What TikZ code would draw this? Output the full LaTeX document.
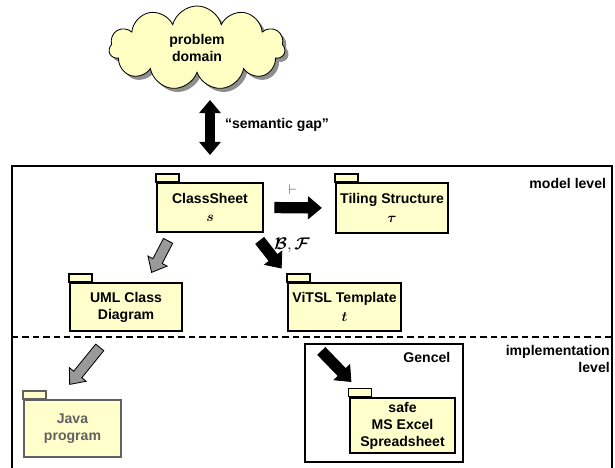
\documentclass[tikz,border=0pt]{standalone}
\usepackage{fontspec}
\usepackage{bm}
\setmainfont{Liberation Sans}
\usetikzlibrary{calc,shapes.symbols,shadows,arrows.meta}

\definecolor{pkgyellow}{RGB}{255,255,204}
\definecolor{cloudyellow}{RGB}{255,255,196}

% block arrow from #2 to #3, leaving gaps #4 and #5
\newcommand\blockarrow[5][]{%
  \coordinate (ba-a) at ($(#2)!#4!(#3)$);
  \coordinate (ba-b) at ($(#3)!#5!(#2)$);
  \coordinate (ba-h) at ($(ba-b)!0.32cm!(ba-a)$);
  \coordinate (ba-1) at ($(ba-a)!0.13cm!90:(ba-b)$);
  \coordinate (ba-2) at ($(ba-h)!0.13cm!90:(ba-b)$);
  \coordinate (ba-3) at ($(ba-h)!0.27cm!90:(ba-b)$);
  \coordinate (ba-4) at ($(ba-h)!0.27cm!-90:(ba-b)$);
  \coordinate (ba-5) at ($(ba-h)!0.13cm!-90:(ba-b)$);
  \coordinate (ba-6) at ($(ba-a)!0.13cm!-90:(ba-b)$);
  \draw[blockarrow,#1] (ba-1) -- (ba-2) -- (ba-3) -- (ba-b) -- (ba-4) -- (ba-5) -- (ba-6) -- cycle;
}
% small tab on top of a package
\newcommand\pkgtab[2][]{\draw[pkgtab,#1] (#2.north west) rectangle ++(23,-8);}

\tikzset{
  pkg/.style = {draw, line width=1.2pt, fill=pkgyellow, align=center,
    inner sep=1pt},
  pkgtab/.style = {draw, line width=1.2pt, fill=pkgyellow},
  blockarrow/.style = {draw=black, line width=0.6pt, fill=black},
  grayarrow/.style = {fill=black!40},
  frame/.style = {draw, line width=0.9pt}
}

\begin{document}
\begin{tikzpicture}[x=0.025cm, y=-0.025cm, every node/.style={font=\bfseries}]
\useasboundingbox (0,0) rectangle (615,467);

% problem domain
\node[cloud, cloud puffs=11, aspect=2.1, draw, line width=0.6pt, fill=cloudyellow,
  minimum width=4.4cm, minimum height=2.1cm, align=center,
  drop shadow={shadow xshift=0.09cm, shadow yshift=-0.09cm, fill=black!55, opacity=0.8}]
  (pd) at (197,48) {problem\\domain};

% semantic gap
\coordinate (gaptop) at (210,100);
\coordinate (gapbot) at (210,155);
\draw[line width=0.25cm, {Triangle[length=0.33cm,width=0.53cm]}-{Triangle[length=0.33cm,width=0.53cm]}]
  (gaptop) -- (gapbot);
\node (gaplabel) at (277,125) {``semantic gap''};

% levels
\draw[frame] (12,470) -- (12,166) -- (612,166) -- (612,470);
\draw[line width=0.9pt, dash pattern=on 0.16cm off 0.1cm] (12,337) -- (612,337);
\node[anchor=east] (model) at (611,183) {model level};
\node[anchor=north east, align=right, inner sep=0pt] (impl) at (610,345) {implementation\\level};

% model level packages
\node[pkg, minimum width=2.65cm, minimum height=1.225cm] (cs) at (210,207.5)
  {ClassSheet\\[1pt]$\bm{s}$};
\node[pkg, minimum width=2.8cm, minimum height=1.25cm] (ts) at (392,208)
  {Tiling Structure\\[1pt]$\bm{\tau}$};
\node[pkg, minimum width=2.8cm, minimum height=1.2cm] (uml) at (126,307)
  {UML Class\\Diagram};
\node[pkg, minimum width=2.825cm, minimum height=1.2cm] (vt) at (344.5,307)
  {ViTSL Template\\[1pt]$\bm{t}$};
\pkgtab{cs}
\pkgtab{ts}
\pkgtab{uml}
\pkgtab{vt}

% implementation level
\node[frame, minimum width=3.95cm, minimum height=2.95cm] (gencel) at (384,403) {};
\node[anchor=north east, inner sep=0pt] (gencellabel) at ($(gencel.north east)+(-13,9)$) {Gencel};
\node[pkg, line width=2pt, minimum width=2.625cm, minimum height=1.375cm] (sf) at (402.5,425.5)
  {safe\\MS Excel\\Spreadsheet};
\pkgtab[line width=1.2pt]{sf}
\node[pkg, draw=black!62, text=black!62, minimum width=2.425cm, minimum height=1.425cm]
  (java) at (72.5,428.5) {Java\\program};
\pkgtab[draw=black!62]{java}

% arrows
\blockarrow{cs.east}{ts.west}{0.275cm}{0.35cm}
\node[font=\normalsize, text=black!70] (turn) at (293,190) {$\vdash$};

\coordinate (cs-uml) at ($(cs.south west)!0.15!(cs.south east)$);
\coordinate (uml-cs) at ($(uml.north west)!0.68!(uml.north east)$);
\blockarrow[grayarrow]{cs-uml}{uml-cs}{0.225cm}{0.275cm}

\coordinate (cs-vt) at ($(cs.south west)!0.906!(cs.south east)$);
\coordinate (vt-cs) at ($(vt.north west)!0.045!(vt.north east)$);
\blockarrow{cs-vt}{vt-cs}{0.25cm}{0.45cm}
\node (bfl) at (292,245) {\large$\bm{\mathcal{B}},\bm{\mathcal{F}}$};

\coordinate (gen-sf) at ($(gencel.north west)!0.06!(gencel.north east)$);
\coordinate (sf-gen) at ($(sf.north west)!0.157!(sf.north east)$);
\blockarrow{gen-sf}{sf-gen}{0.275cm}{0.525cm}

\coordinate (uml-java) at ($(uml.south west)!0.38!(uml.south east)$);
\coordinate (java-uml) at ($(java.north west)!0.35!(java.north east)$);
\blockarrow[grayarrow]{uml-java}{java-uml}{0.5cm}{0.475cm}

\end{tikzpicture}
\end{document}
